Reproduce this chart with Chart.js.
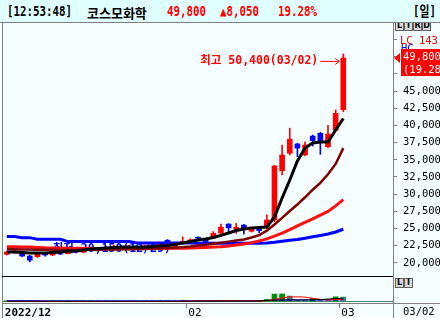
<!DOCTYPE html>
<html>
<head>
<meta charset="utf-8">
<script src="https://cdn.jsdelivr.net/npm/chart.js@4.4.1/dist/chart.umd.min.js"></script>
<style>
  html, body { margin: 0; padding: 0; }
  body { width: 440px; height: 318px; overflow: hidden; position: relative; background: #f5ffff; }
  #head { position: absolute; left: 0; top: 0; width: 440px; height: 22px; background: #e0ffff; border-bottom: 1px solid #808080; z-index: 3; }
  .h { position: absolute; top: 4px; font: bold 13.5px 'DejaVu Sans Mono', 'Noto Sans CJK KR', monospace; line-height: 14px; white-space: nowrap; transform: scaleX(0.8); transform-origin: 0 0; }
  .kr { top: 3px; font: bold 13px 'Noto Sans CJK KR'; transform: none; }
  .red { color: #ff0000; }
  canvas { position: absolute; left: 0; }
  .ln { position: absolute; background: #808080; z-index: 2; }
  .btn { position: absolute; width: 7px; height: 8px; border: 1px solid #606060; background: #d8d8d8; font: bold 8px 'DejaVu Sans', sans-serif; line-height: 8px; text-align: center; color: #000; z-index: 2; }
  .lab { position: absolute; font: 10.5px 'DejaVu Sans Mono', monospace; line-height: 12px; white-space: nowrap; color: #000; }
</style>
</head>
<body>
<div id="head"></div>
<div class="btn" style="left:395px;top:21px">L</div>
<div class="btn" style="left:404px;top:21px">I</div>
<div class="btn" style="left:413px;top:21px">R</div>
<div class="btn" style="left:422px;top:21px">D</div>
<canvas id="price" width="440" height="252" style="top:24px"></canvas>
<canvas id="vol" width="440" height="42" style="top:276px"></canvas>
<div class="ln" style="left:2px;top:23px;width:1px;height:295px"></div>
<div class="ln" style="left:393px;top:23px;width:1px;height:295px"></div>
<div class="ln" style="left:2px;top:276px;width:391px;height:1px;background:#000"></div>
<div class="ln" style="left:393px;top:303px;width:47px;height:1px"></div>
<div class="btn" style="left:395px;top:278px">L</div>
<div class="btn" style="left:404px;top:278px">I</div>
<div class="lab" id="lastDate" style="left:403px;top:305px"></div>
<script>
// header
const timeStamp = '12:53:48';
const stockName = '코스모화학';
const lastPrice = 49800;
const change = 8050;
const changePct = 19.28;

// daily candles
const dates = [
  '2022/12/26','2022/12/27','2022/12/28','2022/12/29',
  '2023/01/02','2023/01/03','2023/01/04','2023/01/05','2023/01/06',
  '2023/01/09','2023/01/10','2023/01/11','2023/01/12','2023/01/13',
  '2023/01/16','2023/01/17','2023/01/18','2023/01/19','2023/01/20',
  '2023/01/25','2023/01/26','2023/01/27','2023/01/30','2023/01/31',
  '2023/02/01','2023/02/02','2023/02/03','2023/02/06','2023/02/07',
  '2023/02/08','2023/02/09','2023/02/10','2023/02/13','2023/02/14',
  '2023/02/15','2023/02/16','2023/02/17','2023/02/20','2023/02/21',
  '2023/02/22','2023/02/23','2023/02/24','2023/02/27','2023/02/28',
  '2023/03/02'
];
const opens = [21250,21500,21500,21000,20900,21300,21150,21400,21350,21700,21550,21900,22100,21950,22200,22350,22250,22400,22300,22450,22200,23300,22400,23000,22900,23650,23450,23600,24350,25650,24900,25500,24600,24900,25200,26250,33400,35950,37300,35700,38450,38850,36900,39300,42300];
const highs = [21700,21900,21600,21100,21400,21500,21550,21600,21850,21900,22050,22300,22250,22400,22600,22500,22600,22500,22600,22700,22850,23400,22800,23800,23500,23800,23500,24550,25650,25700,25750,25600,25000,25300,27000,34200,37150,39600,37400,37600,38600,39000,40000,42250,50400];
const lows = [21150,21400,20900,20150,20800,21000,21050,21200,21300,21450,21500,21800,21850,21900,22100,22100,22150,22200,22200,22300,22150,22300,22300,22900,22850,23400,22950,23550,24300,24500,24300,24200,24500,24400,25000,26000,32800,35700,35450,35600,37000,35800,36800,39200,42000];
const closes = [21600,21700,21000,20400,21300,21150,21400,21300,21700,21550,21900,22100,21950,22200,22350,22250,22400,22300,22450,22400,22750,22400,22600,23150,23350,23600,23000,24300,25200,25100,25200,25000,24900,24700,26250,34100,35700,38000,36700,37150,37800,37500,38750,41750,49800];

// moving averages as drawn
const ma5 = [21600,21600,21530,21450,21450,21450,21530,21600,21740,21740,21890,22030,22100,22180,22250,22330,22330,22330,22330,22400,22470,22540,22690,22900,23130,23340,23490,23710,24000,24360,24720,24940,25090,25160,25230,26690,29450,32060,34830,36720,37440,37590,37590,39330,41000];
const ma20 = [22000,21980,21960,21940,21920,21900,21900,21880,21880,21880,21900,21900,21920,21940,21960,21980,22000,22020,22040,22060,22100,22150,22200,22300,22400,22550,22650,22800,22950,23100,23250,23400,23700,24050,24700,25600,26550,27550,28500,29550,30650,31650,32900,34400,36700];
const ma60 = [22350,22350,22330,22300,22250,22200,22180,22160,22150,22130,22120,22100,22100,22100,22100,22100,22100,22100,22100,22100,22100,22120,22130,22150,22180,22220,22260,22300,22350,22450,22600,22750,22950,23200,23500,23900,24350,24850,25400,25900,26400,26950,27500,28300,29200];
const ma120 = [23850,23850,23680,23680,23450,23450,23450,23450,23100,23100,23100,23100,23100,23100,23100,23100,23100,22900,22900,22900,22900,22900,22900,22900,22900,22850,22850,22850,22850,22850,22850,22850,22850,22850,22900,23000,23150,23300,23400,23600,23800,24000,24200,24500,24900];

// volume (thousand shares)
const volumes = [180,150,160,220,140,120,130,110,150,120,130,140,120,110,130,120,110,100,120,110,150,180,160,600,250,300,250,500,500,300,250,200,250,300,900,3100,3150,2300,500,450,1300,500,400,2000,1900];
const volMa5 = [150,150,150,160,170,160,150,140,130,130,130,130,130,130,130,130,120,120,120,120,120,130,140,250,270,300,330,380,420,400,400,380,380,300,420,960,1540,1990,1990,1880,1400,1000,700,900,1000];
const volMa20 = [200,200,200,200,200,200,200,200,200,200,200,200,200,200,200,200,200,200,200,200,200,200,200,220,230,240,250,260,270,280,290,300,300,300,550,650,700,750,750,750,800,850,1100,1300,1350];
const volMa60 = [420,420,420,420,420,350,350,350,350,350,350,350,350,350,350,350,350,350,350,350,350,350,350,350,350,350,350,350,350,360,370,380,390,400,600,680,700,700,720,720,740,750,760,780,800];

// axes
const monthTickDates = ['2022/12/26','2023/02/01','2023/03/02'];
const monthTickLabels = ['2022/12','02','03'];
const yTicks = [20000,22500,25000,27500,30000,32500,35000,37500,40000,42500,45000,47500,50000,52500];
const yMin = 18100, yMax = 54750, yLabelMax = 45000;
const blankSlots = 6;
const volMin = -500, volMax = 10000;

const fmt = v => v.toLocaleString('en-US');
const slots = dates.concat(Array(blankSlots).fill(''));
const last = dates.length - 1;

document.getElementById('head').innerHTML =
  `<span class="h" style="left:7px">[${timeStamp}]</span>` +
  `<span class="h kr" style="left:87px">${stockName}</span>` +
  `<span class="h red" style="left:167px">${fmt(lastPrice)}</span>` +
  `<span class="h red" style="left:220px">▲${fmt(change)}</span>` +
  `<span class="h red" style="left:278px">${changePct.toFixed(2)}%</span>` +
  `<span class="h" style="left:413px">[일]</span>`;
document.getElementById('lastDate').textContent = dates[last].slice(5);

const candleColors = closes.map((c, i) => c >= opens[i] ? '#ff0000' : '#0000ff');
const volColors = volumes.map((v, i) => i > 0 && v < volumes[i - 1] ? '#408080' : '#009000');
const monoFont = "'DejaVu Sans Mono', 'Noto Sans CJK KR', monospace";

const annotations = {
  id: 'annotations',
  beforeDatasetsDraw(chart) {
    const {ctx, scales: {x, y}} = chart;
    const lo = Math.min(...lows), i = lows.indexOf(lo);
    const px = x.getPixelForValue(i), py = y.getPixelForValue(lo);
    ctx.save();
    ctx.font = `bold 11.5px ${monoFont}`;
    ctx.textBaseline = 'middle';
    ctx.fillStyle = '#0000ff';
    ctx.fillText(`최저 ${fmt(lo)}(${dates[i].slice(5)})`, px + 23, py - 13);
    ctx.restore();
  },
  afterDatasetsDraw(chart) {
    const {ctx, scales: {x, y}} = chart;
    const hi = Math.max(...highs), i = highs.indexOf(hi);
    const px = x.getPixelForValue(i), ty = y.getPixelForValue(hi) + 7;
    ctx.save();
    ctx.font = `bold 11.5px ${monoFont}`;
    ctx.textBaseline = 'middle';
    ctx.textAlign = 'right';
    ctx.fillStyle = ctx.strokeStyle = '#ff0000';
    ctx.fillText(`최고 ${fmt(hi)}(${dates[i].slice(5)})`, px - 25, ty);
    ctx.lineWidth = 1;
    ctx.beginPath();
    ctx.moveTo(px - 23, ty + 0.5); ctx.lineTo(px - 4, ty + 0.5);
    ctx.moveTo(px - 8, ty - 2.5); ctx.lineTo(px - 4, ty + 0.5); ctx.lineTo(px - 8, ty + 3.5);
    ctx.stroke();
    ctx.restore();
  },
  afterDraw(chart) {
    const {ctx, chartArea, scales: {y}} = chart;
    const r = chartArea.right, py = y.getPixelForValue(closes[last]);
    ctx.save();
    ctx.font = `10.5px ${monoFont}`;
    ctx.textBaseline = 'middle';
    ctx.fillStyle = '#ff0000';
    ctx.fillText('LC 143,', r + 7, 17);
    ctx.fillStyle = '#0000ff';
    ctx.fillText('HC', r + 8, 25);
    ctx.fillStyle = '#ff0000';
    ctx.beginPath();
    ctx.moveTo(r + 1, py); ctx.lineTo(r + 7, py - 5); ctx.lineTo(r + 7, py + 5);
    ctx.fill();
    ctx.fillRect(r + 8, py - 9, 40, 27);
    ctx.fillStyle = '#ffffff';
    ctx.fillText(fmt(closes[last]), r + 10, py - 1);
    ctx.fillText(`(${changePct.toFixed(2)}%)`, r + 10, py + 12);
    ctx.restore();
  }
};

new Chart(document.getElementById('price'), {
  type: 'bar',
  data: {
    labels: slots,
    datasets: [
      {type: 'line', data: ma5, borderColor: '#000000', borderWidth: 3, pointRadius: 0, order: 0},
      {type: 'line', data: ma20, borderColor: '#800000', borderWidth: 2.5, pointRadius: 0, order: 1},
      {type: 'line', data: ma60, borderColor: '#ff1010', borderWidth: 3, pointRadius: 0, order: 2},
      {type: 'line', data: ma120, borderColor: '#0000ff', borderWidth: 3, pointRadius: 0, order: 3},
      {data: opens.map((o, i) => [o, closes[i]]), backgroundColor: candleColors, barThickness: 5, minBarLength: 1, grouped: false, order: 4},
      {data: lows.map((l, i) => [l, highs[i]]), backgroundColor: candleColors, barThickness: 1, grouped: false, order: 5}
    ]
  },
  options: {
    responsive: false,
    animation: false,
    events: [],
    layout: {padding: {left: 3, top: 0, right: 0, bottom: 0}},
    plugins: {legend: {display: false}, tooltip: {enabled: false}},
    scales: {
      x: {display: false, offset: true},
      y: {
        position: 'right', min: yMin, max: yMax,
        border: {display: false},
        grid: {drawOnChartArea: false, drawTicks: true, tickLength: 4, color: '#808080'},
        ticks: {
          padding: 6, color: '#000',
          font: {family: monoFont, size: 10.5},
          callback: v => v <= yLabelMax ? fmt(v) : ''
        },
        afterBuildTicks(s) { s.ticks = yTicks.map(v => ({value: v})); },
        afterFit(s) { s.width = 47; s.paddingTop = 0; s.paddingBottom = 0; }
      }
    }
  },
  plugins: [annotations]
});

const tickIdx = monthTickDates.map(d => dates.indexOf(d));

new Chart(document.getElementById('vol'), {
  type: 'bar',
  data: {
    labels: slots,
    datasets: [
      {type: 'line', data: volMa20, borderColor: '#000000', borderWidth: 1, pointRadius: 0, order: 0},
      {type: 'line', data: volMa5, borderColor: '#ff0000', borderWidth: 1, pointRadius: 0, order: 1},
      {type: 'line', data: volMa60, borderColor: '#0000ff', borderWidth: 1, pointRadius: 0, order: 2},
      {data: volumes, backgroundColor: volColors, barThickness: 5, minBarLength: 1, order: 3}
    ]
  },
  options: {
    responsive: false,
    animation: false,
    events: [],
    layout: {padding: {left: 3, right: 47, top: 1, bottom: 0}},
    plugins: {legend: {display: false}, tooltip: {enabled: false}},
    scales: {
      x: {
        offset: true,
        border: {color: '#808080'},
        grid: {offset: true, drawOnChartArea: false, tickLength: 5,
               color: c => tickIdx.includes(c.index) ? '#808080' : 'rgba(0,0,0,0)'},
        ticks: {
          autoSkip: false, maxRotation: 0, minRotation: 0, align: 'start', labelOffset: -2, padding: -1,
          color: '#000',
          font: c => ({family: monoFont, size: 11, weight: c.index === 0 ? 'bold' : 'normal'}),
          callback: (v, i) => { const k = tickIdx.indexOf(i); return k < 0 ? '' : monthTickLabels[k]; }
        },
        afterFit(s) { s.height = 15; s.paddingLeft = 0; s.paddingRight = 0; }
      },
      y: {
        position: 'left', min: volMin, max: volMax,
        border: {display: false},
        ticks: {display: false},
        grid: {drawTicks: false, color: '#4a8a6a'},
        afterBuildTicks(s) { s.ticks = [{value: 0}]; },
        afterFit(s) { s.width = 0; }
      }
    }
  }
});
</script>
</body>
</html>
